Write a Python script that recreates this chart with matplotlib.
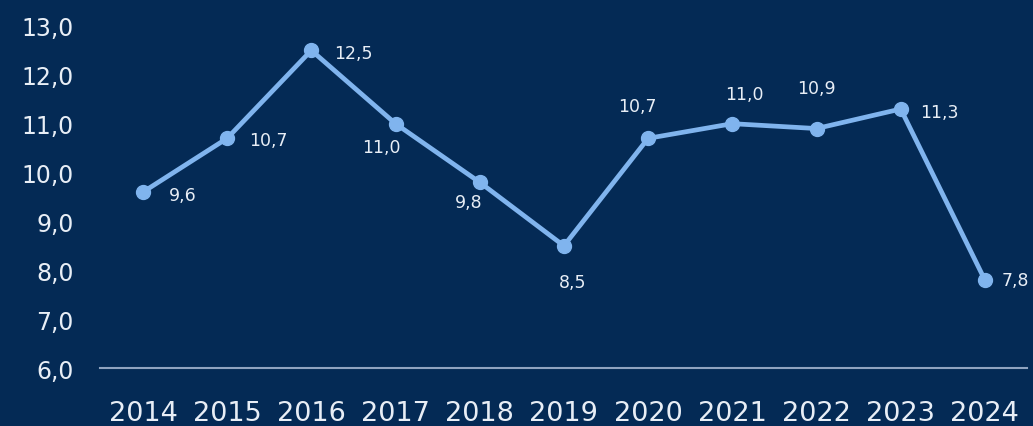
import matplotlib
matplotlib.use("Agg")
import matplotlib.pyplot as plt
from matplotlib.ticker import FuncFormatter, FixedLocator

years = ["2014", "2015", "2016", "2017", "2018", "2019", "2020", "2021", "2022", "2023", "2024"]
values = [9.6, 10.7, 12.5, 11.0, 9.8, 8.5, 10.7, 11.0, 10.9, 11.3, 7.8]
y_ticks = [6, 7, 8, 9, 10, 11, 12, 13]

# label offsets (points) relative to each marker
label_offsets = [(29, -2), (30, -1), (30, -2), (-10, -17), (-8, -14), (6, -26),
                 (-8, 23), (9, 21), (0, 29), (28, -2), (22, 0)]

BG = "#042a55"
LINE = "#80b4ee"
TEXT = "#e8eef6"
BASE = "#8fa3c0"

plt.rcParams["font.family"] = ["DejaVu Sans"]

fig = plt.figure(figsize=(10.33, 4.27), dpi=100, facecolor=BG)
ax = fig.add_axes([100 / 1033, 58 / 427, 927 / 1033, 366.5 / 427], facecolor=BG)

x = list(range(len(years)))
ax.plot(x, values, color=LINE, lw=3.4, marker="o", ms=10, mfc=LINE, mec=LINE,
        solid_joinstyle="round", zorder=3, clip_on=False)

for xi, v, (dx, dy) in zip(x, values, label_offsets):
    ax.annotate(f"{v:.1f}".replace(".", ","), (xi, v), xytext=(dx, dy),
                textcoords="offset points", ha="center", va="center",
                color=TEXT, fontsize=12.5, annotation_clip=False)

ax.set_xlim(-0.51, 10.5)
ax.set_ylim(6, 13.5)
ax.set_xticks(x)
ax.set_xticklabels(years)
ax.yaxis.set_major_locator(FixedLocator(y_ticks))
ax.yaxis.set_major_formatter(FuncFormatter(lambda v, p: f"{v:.1f}".replace(".", ",")))

for s in ["top", "right", "left"]:
    ax.spines[s].set_visible(False)
ax.spines["bottom"].set_color(BASE)
ax.spines["bottom"].set_linewidth(1.5)

ax.tick_params(axis="y", length=0, pad=19, labelsize=17, labelcolor=TEXT)
ax.tick_params(axis="x", length=0, pad=23, labelsize=19.5, labelcolor=TEXT)

fig.savefig("out.png", dpi=100, facecolor=BG)
